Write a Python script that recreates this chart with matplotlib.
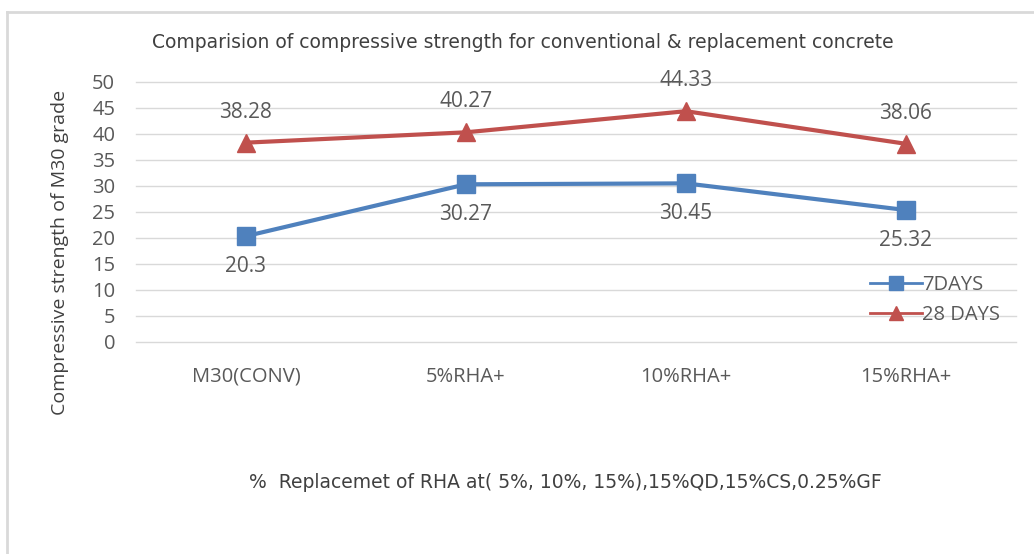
import matplotlib.pyplot as plt
from matplotlib.lines import Line2D

categories = ['M30(CONV)', '5%RHA+', '10%RHA+', '15%RHA+']
days7 = [20.3, 30.27, 30.45, 25.32]
days28 = [38.28, 40.27, 44.33, 38.06]
yticks = [0, 5, 10, 15, 20, 25, 30, 35, 40, 45, 50]

blue = '#4F81BD'
red = '#C0504D'
txt = '#595959'

plt.rcParams['font.family'] = ['Open Sans', 'DejaVu Sans']

fig = plt.figure(figsize=(10.34, 5.54), dpi=100)
ax = fig.add_axes([0.1315, 0.3832, 0.851, 0.4693])

x = list(range(len(categories)))
ax.plot(x, days7, color=blue, lw=3, marker='s', ms=13, label='7DAYS', zorder=3)
ax.plot(x, days28, color=red, lw=3, marker='^', ms=13, label='28 DAYS', zorder=3)

# data labels: 7 days below, 28 days above
for i in x:
    ax.annotate(str(days7[i]), (i, days7[i]), xytext=(0, -22), textcoords='offset points',
                ha='center', va='center', fontsize=15, color=txt)
    ax.annotate(str(days28[i]), (i, days28[i]), xytext=(0, 22), textcoords='offset points',
                ha='center', va='center', fontsize=15, color=txt)

ax.set_xlim(-0.5, 3.5)
ax.set_ylim(0, 50)
ax.set_yticks(yticks)
ax.set_xticks(x)
ax.set_xticklabels(categories)
ax.tick_params(axis='y', length=0, pad=15, labelsize=14.5, labelcolor=txt)
ax.tick_params(axis='x', length=0, pad=18, labelsize=14.5, labelcolor=txt)
ax.grid(axis='y', color='#D9D9D9', lw=1)
for gl in ax.get_ygridlines():
    gl.set_clip_on(False)
ax.set_axisbelow(True)
for s in ax.spines.values():
    s.set_visible(False)

leg = ax.legend(loc='center left', bbox_to_anchor=(852 / 1034, 1 - 300 / 554),
                bbox_transform=fig.transFigure, frameon=False, fontsize=14.5,
                handlelength=2.6, handletextpad=0.0, labelspacing=0.5, labelcolor=txt)
for h in leg.legend_handles:
    h.set_linewidth(2)
    h.set_markersize(10)

fig.text(523 / 1034, 1 - 42 / 554,
         'Comparision of compressive strength for conventional & replacement concrete',
         ha='center', va='center', fontsize=13.5, color='#404040',
         family=['DejaVu Sans'])
fig.text(60 / 1034, 1 - 252 / 554, 'Compressive strength of M30 grade', rotation=90,
         ha='center', va='center', fontsize=14, color='#404040')
fig.text(565 / 1034, 1 - 482 / 554,
         '%  Replacemet of RHA at( 5%, 10%, 15%),15%QD,15%CS,0.25%GF',
         ha='center', va='center', fontsize=13.5, color='#404040',
         family=['DejaVu Sans'])

# chart frame (left and top edges visible)
fig.add_artist(Line2D([7 / 1034, 7 / 1034], [0, 1 - 12 / 554], transform=fig.transFigure,
                      color='#D9D9D9', lw=2))
fig.add_artist(Line2D([7 / 1034, 1], [1 - 12 / 554, 1 - 12 / 554], transform=fig.transFigure,
                      color='#D9D9D9', lw=2))

fig.savefig('out.png', dpi=100)
